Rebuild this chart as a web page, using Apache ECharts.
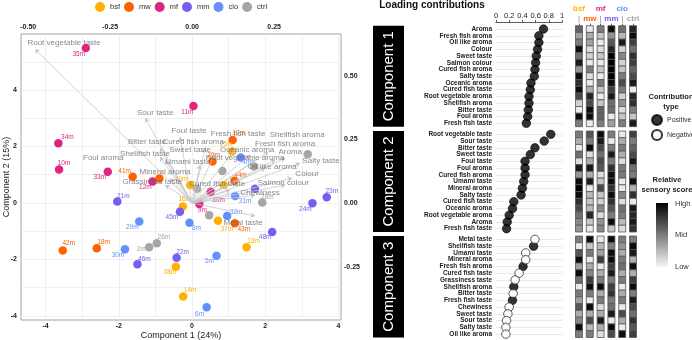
<!DOCTYPE html>
<html>
<head>
<meta charset="utf-8">
<script src="https://cdn.jsdelivr.net/npm/echarts@6/dist/echarts.min.js"></script>
<style>
  html, body { margin: 0; padding: 0; background: #fff; }
  #chart { width: 692px; height: 340px; }
</style>
</head>
<body>
<div id="chart"></div>
<script>
// ---- treatments ----
const groups = ['bsf', 'mw', 'mf', 'mm', 'cio', 'ctrl'];
const groupColors = ['#FFB000', '#FE6100', '#DC267F', '#785EF0', '#648FFF', '#A6A6A6'];

// PCA scores per treatment: [Component 1, Component 2, sample]
const bsfScores = [[-0.05, 0.64, '40m'], [0.87, 0.64, ''], [1.10, 1.82, '25m'], [-0.25, -0.13, '16m'], [0.71, -0.63, '37m'], [1.49, -1.57, '13m'], [-0.44, -2.26, '38m'], [-0.24, -3.32, '14m']];
const mwScores = [[-1.62, 0.93, '41m'], [-0.89, 0.87, ''], [1.16, 0.79, '44m'], [0.56, 1.47, '20m'], [1.11, 2.23, '17m'], [1.17, -0.72, '43m'], [-3.53, -1.69, '42m'], [-2.60, -1.61, '18m']];
const mfScores = [[-2.90, 5.49, '35m'], [0.04, 3.44, '11m'], [-3.65, 2.12, '34m'], [-3.63, 1.19, '10m'], [-2.30, 1.11, '33m'], [-1.08, 0.76, '12m'], [0.51, 0.40, '30m'], [0.20, -0.04, '9m']];
const mmScores = [[-2.04, 0.05, '21m'], [1.72, 0.50, ''], [3.29, -0.01, '24m'], [3.68, 0.20, '23m'], [-0.33, -0.31, '45m'], [2.19, -1.03, '48m'], [-0.42, -1.94, '22m'], [-1.49, -2.17, '46m']];
const cioScores = [[1.33, 1.61, '4m'], [1.18, 0.25, '31m'], [0.96, -0.46, '32m'], [-1.44, -0.66, '29m'], [-0.07, -0.70, '8m'], [-1.83, -1.64, '30m'], [0.67, -1.87, '5m'], [0.40, -3.70, '6m']];
const ctrlScores = [[0.14, 0.50, ''], [0.83, 1.13, ''], [1.70, 1.29, ''], [3.16, 1.73, ''], [1.92, 0.02, '28m'], [0.47, -0.44, ''], [-0.96, -1.43, '26m'], [-1.17, -1.57, '2m']];

// loading vectors
const attributes = ['Root vegetable taste', 'Sour taste', 'Foul taste', 'Bitter taste', 'Shellfish taste', 'Foul aroma',
  'Cured fish aroma', 'Sweet taste', 'Fresh fish taste', 'Oceanic aroma', 'Root vegetable aroma', 'Umami taste',
  'Mineral aroma', 'Grassiness taste', 'Cured fish taste', 'Shellfish aroma', 'Fresh fish aroma', 'Aroma',
  'Oil like aroma', 'Salty taste', 'Colour', 'Salmon colour', 'Chewiness', 'Metal taste'];
const loadPC1 = [-0.479, -0.143, -0.037, -0.098, -0.098, -0.082, 0.040, 0.070, 0.131, 0.177, 0.192, 0.024,
  -0.067, -0.082, 0.116, 0.232, 0.253, 0.284, 0.223, 0.329, 0.305, 0.284, 0.192, 0.192];
const loadPC2 = [0.605, 0.335, 0.260, 0.217, 0.181, 0.169, 0.217, 0.197, 0.209, 0.189, 0.169, 0.150,
  0.098, 0.071, 0.051, 0.201, 0.169, 0.177, 0.138, 0.157, 0.098, 0.071, 0.031, -0.051];

// loading contributions (sign: 1 positive, -1 negative)
const comp1Attr = ['Aroma', 'Fresh fish aroma', 'Oil like aroma', 'Colour', 'Sweet taste', 'Salmon colour', 'Cured fish aroma',
  'Salty taste', 'Oceanic aroma', 'Cured fish taste', 'Root vegetable aroma', 'Shellfish aroma', 'Bitter taste', 'Foul aroma', 'Fresh fish taste'];
const comp1Value = [0.72, 0.65, 0.65, 0.63, 0.61, 0.60, 0.59, 0.58, 0.53, 0.52, 0.50, 0.50, 0.49, 0.48, 0.46];
const comp1Sign = [1, 1, 1, 1, 1, 1, 1, 1, 1, 1, 1, 1, 1, 1, 1];

const comp2Attr = ['Root vegetable taste', 'Sour taste', 'Bitter taste', 'Sweet taste', 'Foul taste', 'Foul aroma', 'Cured fish aroma',
  'Umami taste', 'Mineral aroma', 'Salty taste', 'Cured fish taste', 'Oceanic aroma', 'Root vegetable aroma', 'Aroma', 'Fresh fish taste'];
const comp2Value = [0.83, 0.73, 0.59, 0.52, 0.44, 0.44, 0.44, 0.42, 0.40, 0.38, 0.27, 0.25, 0.20, 0.17, 0.16];
const comp2Sign = [1, 1, 1, 1, 1, 1, 1, 1, 1, 1, 1, 1, 1, 1, 1];

const comp3Attr = ['Metal taste', 'Shellfish taste', 'Umami taste', 'Mineral aroma', 'Fresh fish aroma', 'Cured fish taste', 'Grassiness taste',
  'Shellfish aroma', 'Bitter taste', 'Fresh fish taste', 'Chewiness', 'Sweet taste', 'Sour taste', 'Salty taste', 'Oil like aroma'];
const comp3Value = [0.59, 0.57, 0.45, 0.45, 0.41, 0.35, 0.29, 0.27, 0.26, 0.25, 0.20, 0.18, 0.16, 0.15, 0.15];
const comp3Sign = [-1, 1, -1, -1, 1, -1, -1, 1, -1, 1, -1, -1, -1, -1, -1];

// relative sensory scores (0 low .. 1 high), one row per treatment, in the order of the attribute list
const heat1 = [
  [0.60, 0.35, 0.50, 0.95, 0.55, 0.90, 0.40, 0.95, 0.80, 0.95, 0.70, 0.15, 0.05, 0.95, 0.50],
  [0.05, 0.30, 0.35, 0.10, 0.15, 0.05, 0.50, 0.10, 0.05, 0.30, 0.85, 0.70, 0.95, 0.95, 0.05],
  [0.50, 0.20, 0.05, 0.10, 0.20, 0.05, 0.20, 0.05, 0.50, 0.20, 0.05, 0.20, 0.60, 0.60, 0.50],
  [0.95, 0.40, 0.65, 0.85, 1.00, 1.00, 1.00, 1.00, 0.95, 0.75, 0.90, 0.55, 0.55, 0.05, 0.35],
  [0.55, 0.25, 0.90, 0.15, 0.45, 0.15, 0.20, 0.50, 0.70, 0.50, 0.15, 0.40, 0.10, 0.20, 0.50],
  [0.85, 0.95, 0.75, 0.55, 0.80, 0.75, 0.60, 0.70, 0.90, 0.05, 0.85, 0.80, 0.50, 0.20, 0.90]
];
const heat2 = [
  [0.50, 0.30, 0.05, 0.55, 0.10, 0.90, 0.40, 0.95, 1.00, 0.95, 0.80, 0.70, 0.55, 0.45, 0.40],
  [0.65, 0.50, 0.95, 0.10, 0.30, 0.90, 0.30, 0.90, 0.05, 0.25, 0.20, 0.25, 0.85, 0.20, 0.05],
  [0.95, 0.90, 0.70, 0.55, 0.70, 0.65, 0.10, 0.20, 0.70, 0.20, 0.15, 0.45, 0.10, 0.40, 0.45],
  [0.50, 0.05, 0.50, 0.90, 0.50, 0.80, 0.95, 0.95, 0.80, 0.95, 0.80, 0.65, 0.50, 0.95, 0.20],
  [0.05, 0.30, 0.50, 0.30, 0.10, 0.50, 0.50, 0.05, 0.05, 0.45, 0.10, 0.55, 0.50, 0.25, 0.10],
  [0.75, 0.50, 0.60, 0.70, 0.90, 0.55, 0.50, 0.95, 0.30, 0.80, 0.05, 0.90, 0.85, 0.90, 0.80]
];
const heat3 = [
  [0.50, 0.05, 0.65, 0.95, 0.35, 0.95, 0.55, 0.05, 0.50, 0.35, 0.65, 0.30, 0.45, 0.95, 0.50],
  [0.95, 0.20, 0.50, 0.05, 0.30, 0.45, 0.75, 0.95, 0.50, 0.05, 0.95, 0.30, 0.70, 0.25, 0.50],
  [0.05, 0.25, 0.35, 0.75, 0.05, 0.30, 0.50, 0.95, 0.30, 0.50, 0.10, 0.30, 0.90, 0.30, 0.10],
  [0.95, 0.50, 0.95, 0.95, 0.75, 0.90, 0.50, 0.75, 0.80, 0.50, 0.55, 0.90, 0.05, 0.95, 0.70],
  [0.50, 0.40, 0.30, 0.50, 0.55, 0.30, 0.50, 0.05, 0.30, 0.50, 0.05, 0.70, 0.30, 0.05, 0.95],
  [0.50, 0.95, 0.90, 0.30, 0.95, 0.30, 0.75, 0.95, 0.50, 0.90, 0.70, 0.55, 0.80, 0.65, 0.75]
];

// ---- layout only: label nudges in px (ggrepel-like) ----
const bsfLabelShift = [[-9, -6], [0, 0], [-6, -7], [2, -7], [9, 8], [7, -6], [-6, 6], [7, -6]];
const mwLabelShift = [[-8, -6], [0, 0], [6, -5], [1, -6], [6, -7], [9, 6], [6, -7], [7, -6]];
const mfLabelShift = [[-7, 6], [-6, 6], [9, -6], [5, -6], [-8, 6], [-7, 6], [8, 9], [3, 6]];
const mmLabelShift = [[6, -5], [0, 0], [-7, 6], [5, -6], [-8, 6], [-7, 5], [6, -5], [7, -5]];
const cioLabelShift = [[6, 5], [10, 5], [9, -4], [-7, 6], [7, 6], [-7, 6], [-7, 6], [-7, 7]];
const ctrlLabelShift = [[0, 0], [0, 0], [0, 0], [0, 0], [5, -5], [0, 0], [7, -6], [-8, 2]];
const attrLabelShift = [[29, -6], [10, -5], [9, -6], [-13, -6], [-15, -3], [-62, -2], [-12, -6], [-25, -3], [3, -16],
  [-3, -5], [-10, -2], [-12, -3], [-5, -6], [-13, -3], [-13, -6], [29, -17], [10, -16], [5, -6], [7, -1], [21, -2],
  [15, -4], [-2, -2], [5, -2], [-12, 7]];

const font = 'Liberation Sans, Arial, Helvetica, sans-serif';
const scoreSets = [bsfScores, mwScores, mfScores, mmScores, cioScores, ctrlScores];
const labelShifts = [bsfLabelShift, mwLabelShift, mfLabelShift, mmLabelShift, cioLabelShift, ctrlLabelShift];
const comps = [
  { attr: comp1Attr, value: comp1Value, sign: comp1Sign, heat: heat1 },
  { attr: comp2Attr, value: comp2Value, sign: comp2Sign, heat: heat2 },
  { attr: comp3Attr, value: comp3Value, sign: comp3Sign, heat: heat3 }
];
const panelTop = [25.7, 131, 236];
const panelHeight = [101, 101, 101.5];

const chart = echarts.init(document.getElementById('chart'));

const grids = [{ left: 21, top: 34, width: 320, height: 286, show: true, borderColor: '#8c8c8c', borderWidth: 0.8, outerBoundsMode: 'none' }];
comps.forEach((c, k) => grids.push({
  left: 496, width: 66, top: panelTop[k] + panelHeight[k] / 30, height: panelHeight[k] * 14 / 15, outerBoundsMode: 'none'
}));
comps.forEach((c, k) => grids.push({
  left: 573.6, width: 64.8, top: panelTop[k], height: panelHeight[k], outerBoundsMode: 'none'
}));

const tickFont = { fontSize: 7, fontWeight: 'bold', color: '#222', fontFamily: font };
const gridVals = [-4, -3, -2, -1, 0, 1, 2, 3, 4];
const xAxes = [
  {
    gridIndex: 0, type: 'value', min: -4.67, max: 4.07, position: 'bottom',
    name: 'Component 1 (24%)', nameLocation: 'middle', nameGap: 11, nameMoveOverlap: false,
    nameTextStyle: { fontSize: 9, color: '#222', fontFamily: font },
    axisLine: { show: false },
    axisTick: { show: false, customValues: gridVals },
    axisLabel: { ...tickFont, margin: 3, customValues: [-4, -2, 0, 2, 4] },
    splitLine: { show: true, customValues: gridVals, lineStyle: { color: '#e9e9e9', width: 0.7 } }
  },
  {
    gridIndex: 0, type: 'value', min: -0.522, max: 0.454, position: 'top',
    axisLine: { show: false },
    axisTick: { show: false, customValues: [-0.5, -0.25, 0, 0.25] },
    axisLabel: { ...tickFont, margin: 3, customValues: [-0.5, -0.25, 0, 0.25], formatter: v => v.toFixed(2) },
    splitLine: { show: false }
  }
];
const yAxes = [
  {
    gridIndex: 0, type: 'value', min: -4.15, max: 5.99, position: 'left',
    name: 'Component 2 (15%)', nameLocation: 'middle', nameGap: 10, nameRotate: 90, nameMoveOverlap: false,
    nameTextStyle: { fontSize: 9, color: '#222', fontFamily: font },
    axisLine: { show: false },
    axisTick: { show: false, customValues: [-4, -3, -2, -1, 0, 1, 2, 3, 4, 5] },
    axisLabel: { ...tickFont, margin: 4, customValues: [-4, -2, 0, 2, 4] },
    splitLine: { show: true, customValues: [-4, -3, -2, -1, 0, 1, 2, 3, 4, 5], lineStyle: { color: '#e9e9e9', width: 0.7 } }
  },
  {
    gridIndex: 0, type: 'value', min: -0.46, max: 0.665, position: 'right',
    axisLine: { show: false },
    axisTick: { show: false, customValues: [-0.25, 0, 0.25, 0.5] },
    axisLabel: { ...tickFont, margin: 3, customValues: [-0.25, 0, 0.25, 0.5], formatter: v => v.toFixed(2) },
    splitLine: { show: false }
  }
];

comps.forEach((c, k) => {
  xAxes.push({
    gridIndex: 1 + k, type: 'value', min: 0, max: 1, interval: 0.2, position: 'top',
    show: k === 0, offset: 6.7,
    axisLine: { show: true, lineStyle: { color: '#333', width: 0.8 } },
    axisTick: { show: true, length: 2.5, lineStyle: { color: '#333', width: 0.8 } },
    axisLabel: { fontSize: 7.5, color: '#222', margin: 2, fontFamily: font },
    splitLine: { show: false }
  });
  yAxes.push({
    gridIndex: 1 + k, type: 'category', data: c.attr, inverse: true, boundaryGap: false,
    axisLine: { show: false }, axisTick: { show: false },
    axisLabel: { interval: 0, hideOverlap: false, fontSize: 6.5, fontWeight: 'bold', color: '#222', margin: 4, fontFamily: font },
    splitLine: { show: true, interval: 0, lineStyle: { color: '#dedede', width: 0.7 } }
  });
});

const headerRich = { bar: { color: '#8a8a8a', fontSize: 8, fontFamily: font } };
groups.forEach((g, i) => {
  headerRich['g' + i] = { color: groupColors[i], fontSize: 8, fontWeight: 'bold', fontFamily: font, lineHeight: 10 };
});
comps.forEach((c, k) => {
  xAxes.push({
    gridIndex: 4 + k, type: 'category', data: groups, position: 'top', show: k === 0,
    axisLine: { show: false },
    axisTick: { show: true, alignWithLabel: true, length: 2, lineStyle: { color: '#555' } },
    axisLabel: {
      interval: 0, margin: 2, lineHeight: 10, rich: headerRich,
      formatter: (v, i) => (i % 2 === 0 ? '{g' + i + '|' + v + '}\n{bar||}' : '{g' + i + '|' + v + '}')
    },
    splitLine: { show: false }
  });
  yAxes.push({
    gridIndex: 4 + k, type: 'category', data: c.attr, inverse: true, show: false
  });
});

const series = [];
groups.forEach((g, gi) => {
  series.push({
    type: 'scatter', name: g, xAxisIndex: 0, yAxisIndex: 0, symbolSize: 8.5, z: 3,
    itemStyle: { color: groupColors[gi], opacity: 1 },
    label: { show: true, position: 'inside', formatter: '{b}', fontSize: 6.5, color: groupColors[gi], fontFamily: font },
    emphasis: { disabled: true },
    data: scoreSets[gi].map((p, i) => ({
      value: [p[0], p[1]], name: p[2],
      label: { show: p[2] !== '', offset: labelShifts[gi][i] }
    }))
  });
});

series.push({
  type: 'lines', coordinateSystem: 'cartesian2d', xAxisIndex: 1, yAxisIndex: 1, z: 4, silent: true,
  symbol: ['none', 'arrow'], symbolSize: 4.5,
  lineStyle: { color: '#c6c6c6', width: 0.8, opacity: 1 },
  data: attributes.map((a, i) => ({ coords: [[0, 0], [loadPC1[i], loadPC2[i]]] }))
});
series.push({
  type: 'scatter', xAxisIndex: 1, yAxisIndex: 1, symbolSize: 1, z: 5, silent: true,
  itemStyle: { color: 'rgba(0,0,0,0)' },
  label: { show: true, position: 'inside', formatter: '{b}', fontSize: 8, color: '#6a6a6a', fontFamily: font },
  data: attributes.map((a, i) => ({ value: [loadPC1[i], loadPC2[i]], name: a, label: { offset: attrLabelShift[i] } }))
});

comps.forEach((c, k) => {
  [1, -1].forEach(s => {
    series.push({
      type: 'scatter', name: s > 0 ? 'Positive' : 'Negative', xAxisIndex: 2 + k, yAxisIndex: 2 + k,
      symbolSize: 8.5, z: 3,
      itemStyle: { color: s > 0 ? '#000' : '#fff', borderColor: '#000', borderWidth: 0.8 },
      emphasis: { disabled: true },
      data: c.attr.map((a, i) => (c.sign[i] === s ? [c.value[i], a] : null)).filter(d => d)
    });
  });
});

const heatSeries = [];
comps.forEach((c, k) => {
  const data = [];
  c.heat.forEach((row, gi) => row.forEach((v, r) => data.push([gi, r, v])));
  heatSeries.push(series.length);
  series.push({
    type: 'custom', xAxisIndex: 5 + k, yAxisIndex: 5 + k, silent: true,
    encode: { x: 0, y: 1 },
    renderItem: (params, api) => {
      const p = api.coord([api.value(0), api.value(1)]);
      const h = api.size([0, 1])[1];
      return {
        type: 'rect',
        shape: { x: p[0] - 3.5, y: p[1] - h / 2, width: 7, height: h },
        style: { fill: api.visual('color'), stroke: '#555', lineWidth: 0.8 }
      };
    },
    data
  });
});

const graphics = [
  { type: 'text', x: 432, y: 5, style: { text: 'Loading contributions', font: 'bold 10px ' + font, fill: '#111', align: 'center', verticalAlign: 'middle', textAlign: 'center', textVerticalAlign: 'middle' } },
  { type: 'text', x: 671, y: 97, style: { text: 'Contribution', font: 'bold 7.5px ' + font, fill: '#222', align: 'center', verticalAlign: 'middle', textAlign: 'center', textVerticalAlign: 'middle' } },
  { type: 'text', x: 671, y: 107, style: { text: 'type', font: 'bold 7.5px ' + font, fill: '#222', align: 'center', verticalAlign: 'middle', textAlign: 'center', textVerticalAlign: 'middle' } },
  { type: 'text', x: 667, y: 180, style: { text: 'Relative', font: 'bold 7.5px ' + font, fill: '#222', align: 'center', verticalAlign: 'middle', textAlign: 'center', textVerticalAlign: 'middle' } },
  { type: 'text', x: 667, y: 190, style: { text: 'sensory score', font: 'bold 7.5px ' + font, fill: '#222', align: 'center', verticalAlign: 'middle', textAlign: 'center', textVerticalAlign: 'middle' } },
  {
    type: 'rect', shape: { x: 656, y: 203, width: 12, height: 64 },
    style: { fill: new echarts.graphic.LinearGradient(0, 0, 0, 1, [{ offset: 0, color: '#000' }, { offset: 1, color: '#f7f7f7' }]) }
  }
];
[['High', 204], ['Mid', 235], ['Low', 267]].forEach(t => graphics.push({
  type: 'text', x: 675, y: t[1], style: { text: t[0], font: '7.5px ' + font, fill: '#333', align: 'left', verticalAlign: 'middle', textAlign: 'left', textVerticalAlign: 'middle' }
}));
comps.forEach((c, k) => {
  graphics.push({ type: 'rect', shape: { x: 373, y: panelTop[k], width: 31, height: panelHeight[k] }, style: { fill: '#000' } });
  graphics.push({
    type: 'text', x: 389, y: panelTop[k] + panelHeight[k] / 2, rotation: Math.PI / 2,
    style: { text: 'Component ' + (k + 1), font: '15px ' + font, fill: '#fff', align: 'center', verticalAlign: 'middle', textAlign: 'center', textVerticalAlign: 'middle' }
  });
});

chart.setOption({
  animation: false,
  textStyle: { fontFamily: font },
  legend: [
    {
      data: groups, left: 95, top: 2, padding: 0, icon: 'circle', itemWidth: 10, itemHeight: 10, itemGap: 4,
      selectedMode: false, textStyle: { fontSize: 7.5, color: '#333', fontFamily: font }
    },
    {
      data: ['Positive', 'Negative'], left: 651, top: 114, padding: 0, orient: 'vertical', icon: 'circle',
      itemWidth: 10, itemHeight: 10, itemGap: 3, selectedMode: false,
      textStyle: { fontSize: 7, color: '#333', fontFamily: font }
    }
  ],
  visualMap: {
    show: false, type: 'continuous', min: 0, max: 1, dimension: 2, seriesIndex: heatSeries,
    inRange: { color: ['#f7f7f7', '#000000'] }
  },
  grid: grids,
  xAxis: xAxes,
  yAxis: yAxes,
  series,
  graphic: graphics
});
</script>
</body>
</html>
